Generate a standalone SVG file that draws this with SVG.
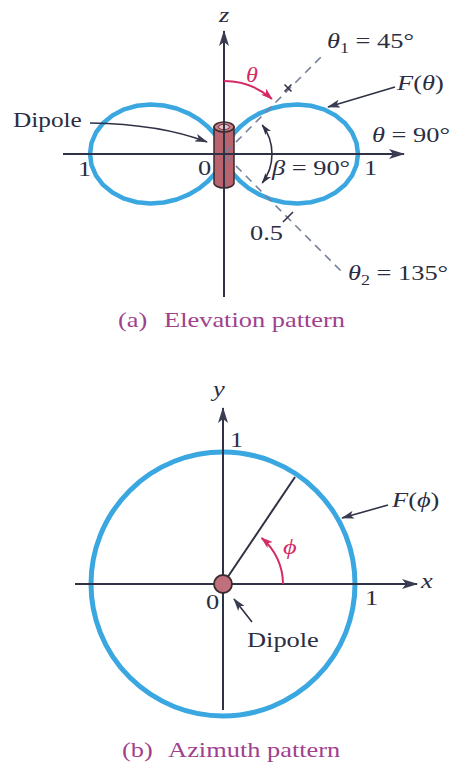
<svg xmlns="http://www.w3.org/2000/svg" width="454" height="765" viewBox="0 0 454 765">
<style>
.t{font-family:"Liberation Serif","Times New Roman",serif;font-size:22px;fill:#2b2d42}
.it{font-style:italic}
.cap{fill:#a0418d}
.red{fill:#d42a64}
.ax{stroke:#2f3244;stroke-width:2;fill:none}
.ld{stroke:#2f3244;stroke-width:1.6;fill:none}
.lobe{stroke:#3aa7e1;stroke-width:4.5;fill:none;stroke-linejoin:round}
.dash{stroke:#76809a;stroke-width:1.6;stroke-dasharray:8 6;fill:none}
.rarc{stroke:#d42a64;stroke-width:2;fill:none}
</style>
<defs>
<marker id="ah" viewBox="0 0 16 10" refX="15" refY="5" markerWidth="16" markerHeight="10" markerUnits="userSpaceOnUse" orient="auto"><path d="M0,0 L16,5 L0,10 L4,5 Z" fill="#3a3d52"/></marker>
<marker id="al" viewBox="0 0 13 8" refX="12" refY="4" markerWidth="13" markerHeight="8" markerUnits="userSpaceOnUse" orient="auto"><path d="M0,0 L13,4 L0,8 L3,4 Z" fill="#3a3d52"/></marker>
<marker id="ar" viewBox="0 0 12 8" refX="11" refY="4" markerWidth="12" markerHeight="8" markerUnits="userSpaceOnUse" orient="auto"><path d="M0,0 L12,4 L0,8 L3,4 Z" fill="#d42a64"/></marker>
<marker id="ab" viewBox="0 0 11 7" refX="10" refY="3.5" markerWidth="11" markerHeight="7" markerUnits="userSpaceOnUse" orient="auto-start-reverse"><path d="M0,0 L11,3.5 L0,7 L3,3.5 Z" fill="#2f3244"/></marker>
</defs>
<rect width="454" height="765" fill="#ffffff"/>

<g id="elevation-lobes">
<path class="lobe" d="M224,154 L224.09,153.03 L224.7,150.18 L226.32,145.68 L229.36,139.86 L234.11,133.18 L240.75,126.16 L249.29,119.34 L259.59,113.3 L271.38,108.53 L284.24,105.49 L297.65,104.51 L311.04,105.77 L323.75,109.36 L335.19,115.16 L344.76,122.94 L351.99,132.34 L356.48,142.88 L358,154 L356.48,165.12 L351.99,175.66 L344.76,185.06 L335.19,192.84 L323.75,198.64 L311.04,202.23 L297.65,203.49 L284.24,202.51 L271.38,199.47 L259.59,194.7 L249.29,188.66 L240.75,181.84 L234.11,174.82 L229.36,168.14 L226.32,162.32 L224.7,157.82 L224.09,154.97 Z"/>
<path class="lobe" d="M224,154 L223.91,153.03 L223.3,150.18 L221.68,145.68 L218.64,139.86 L213.89,133.18 L207.25,126.16 L198.71,119.34 L188.41,113.3 L176.62,108.53 L163.76,105.49 L150.35,104.51 L136.96,105.77 L124.25,109.36 L112.81,115.16 L103.24,122.94 L96.01,132.34 L91.52,142.88 L90,154 L91.52,165.12 L96.01,175.66 L103.24,185.06 L112.81,192.84 L124.25,198.64 L136.96,202.23 L150.35,203.49 L163.76,202.51 L176.62,199.47 L188.41,194.7 L198.71,188.66 L207.25,181.84 L213.89,174.82 L218.64,168.14 L221.68,162.32 L223.3,157.82 L223.91,154.97 Z"/>
</g>

<g id="dipole-elevation">
<path d="M214,127 L214,183 A10,5 0 0 0 234,183 L234,127 Z" fill="#b8636e" stroke="#3b2a2e" stroke-width="1.5"/>
<ellipse cx="224" cy="127" rx="10" ry="5" fill="#c77c86" stroke="#3b2a2e" stroke-width="1.5"/>
<ellipse cx="224" cy="127" rx="5.5" ry="2.6" fill="#ecc6cb" stroke="#6b3a44" stroke-width="1"/>
</g>

<g id="azimuth-circle">
<circle cx="223" cy="584" r="132" fill="none" stroke="#3aa7e1" stroke-width="5"/>
</g>

<g id="connectors">
<line class="ax" x1="224" y1="297" x2="224" y2="31" marker-end="url(#ah)"/>
<line class="ax" x1="63" y1="154" x2="404" y2="154" marker-end="url(#ah)"/>
<line class="dash" x1="226" y1="152" x2="325" y2="53"/>
<line class="dash" x1="226" y1="156" x2="343" y2="273"/>
<path d="M284.5,84.5 L291.5,91.5 M284.5,91.5 L291.5,84.5" stroke="#2f3244" stroke-width="1.5"/>
<line x1="283" y1="222" x2="293" y2="212" stroke="#2f3244" stroke-width="1.6"/>
<path class="rarc" d="M224,81 A73,73 0 0 1 271.9,98.9" marker-end="url(#ar)"/>
<path class="ld" d="M262.3,125.1 A48,48 0 0 1 262.3,182.9" marker-start="url(#ab)" marker-end="url(#ab)"/>
<path class="ld" d="M90,123 Q160,124 207,142" marker-end="url(#al)"/>
<line class="ld" x1="395" y1="87" x2="328" y2="107" marker-end="url(#al)"/>

<line class="ax" x1="75" y1="584" x2="417" y2="584" marker-end="url(#ah)"/>
<line class="ax" x1="223" y1="710" x2="223" y2="408" marker-end="url(#ah)"/>
<line class="ax" x1="223" y1="584" x2="295" y2="477"/>
<path class="rarc" d="M283,584 A60,60 0 0 0 261.6,538" marker-end="url(#ar)"/>
<line class="ld" x1="388" y1="505" x2="342" y2="518" marker-end="url(#al)"/>
<line class="ld" x1="252" y1="622" x2="234" y2="599" marker-end="url(#al)"/>
</g>

<g id="dipole-azimuth">
<circle cx="223" cy="584" r="9" fill="#c0707c" stroke="#3b2a2e" stroke-width="1.8"/>
</g>

<g id="labels">
<text class="t it" font-size="20" transform="translate(219,22) scale(1.2,1)">z</text>
<text class="t it red" font-size="24" transform="translate(246,82) scale(1.1,1)">θ</text>
<text class="t" transform="translate(327,48) scale(1.2,1)"><tspan class="it">θ</tspan><tspan font-size="15" dy="5">1</tspan><tspan dy="-5"> = 45°</tspan></text>
<text class="t" transform="translate(397,90) scale(1.2,1)"><tspan class="it">F</tspan>(<tspan class="it">θ</tspan>)</text>
<text class="t" transform="translate(13,127) scale(1.15,1)">Dipole</text>
<text class="t" transform="translate(372,142) scale(1.2,1)"><tspan class="it">θ</tspan> = 90°</text>
<text class="t" font-size="20" transform="translate(78,176) scale(1.2,1)">1</text>
<text class="t" font-size="20" transform="translate(198,175) scale(1.2,1)">0</text>
<text class="t" font-size="20" transform="translate(364,175) scale(1.2,1)">1</text>
<text class="t" transform="translate(272,175) scale(1.2,1)"><tspan class="it">β</tspan> = 90°</text>
<text class="t" font-size="20" transform="translate(250,240) scale(1.2,1)">0.5</text>
<text class="t" transform="translate(348,280) scale(1.2,1)"><tspan class="it">θ</tspan><tspan font-size="15" dy="5">2</tspan><tspan dy="-5"> = 135°</tspan></text>
<text class="t cap" transform="translate(118,327) scale(1.2,1)">(a)<tspan dx="8.5"> Elevation pattern</tspan></text>

<text class="t it" font-size="21" transform="translate(213,396) scale(1.2,1)">y</text>
<text class="t" font-size="21" transform="translate(230,447) scale(1.2,1)">1</text>
<text class="t" transform="translate(392,507) scale(1.2,1)"><tspan class="it">F</tspan>(<tspan class="it">ϕ</tspan>)</text>
<text class="t it red" transform="translate(283,554) scale(1.2,1)">ϕ</text>
<text class="t it" font-size="21" transform="translate(421,588) scale(1.2,1)">x</text>
<text class="t" font-size="21" transform="translate(206,609) scale(1.2,1)">0</text>
<text class="t" font-size="21" transform="translate(365,605) scale(1.2,1)">1</text>
<text class="t" transform="translate(247,647) scale(1.2,1)">Dipole</text>
<text class="t cap" transform="translate(122,757) scale(1.2,1)">(b)<tspan dx="8.5"> Azimuth pattern</tspan></text>
</g>
</svg>
